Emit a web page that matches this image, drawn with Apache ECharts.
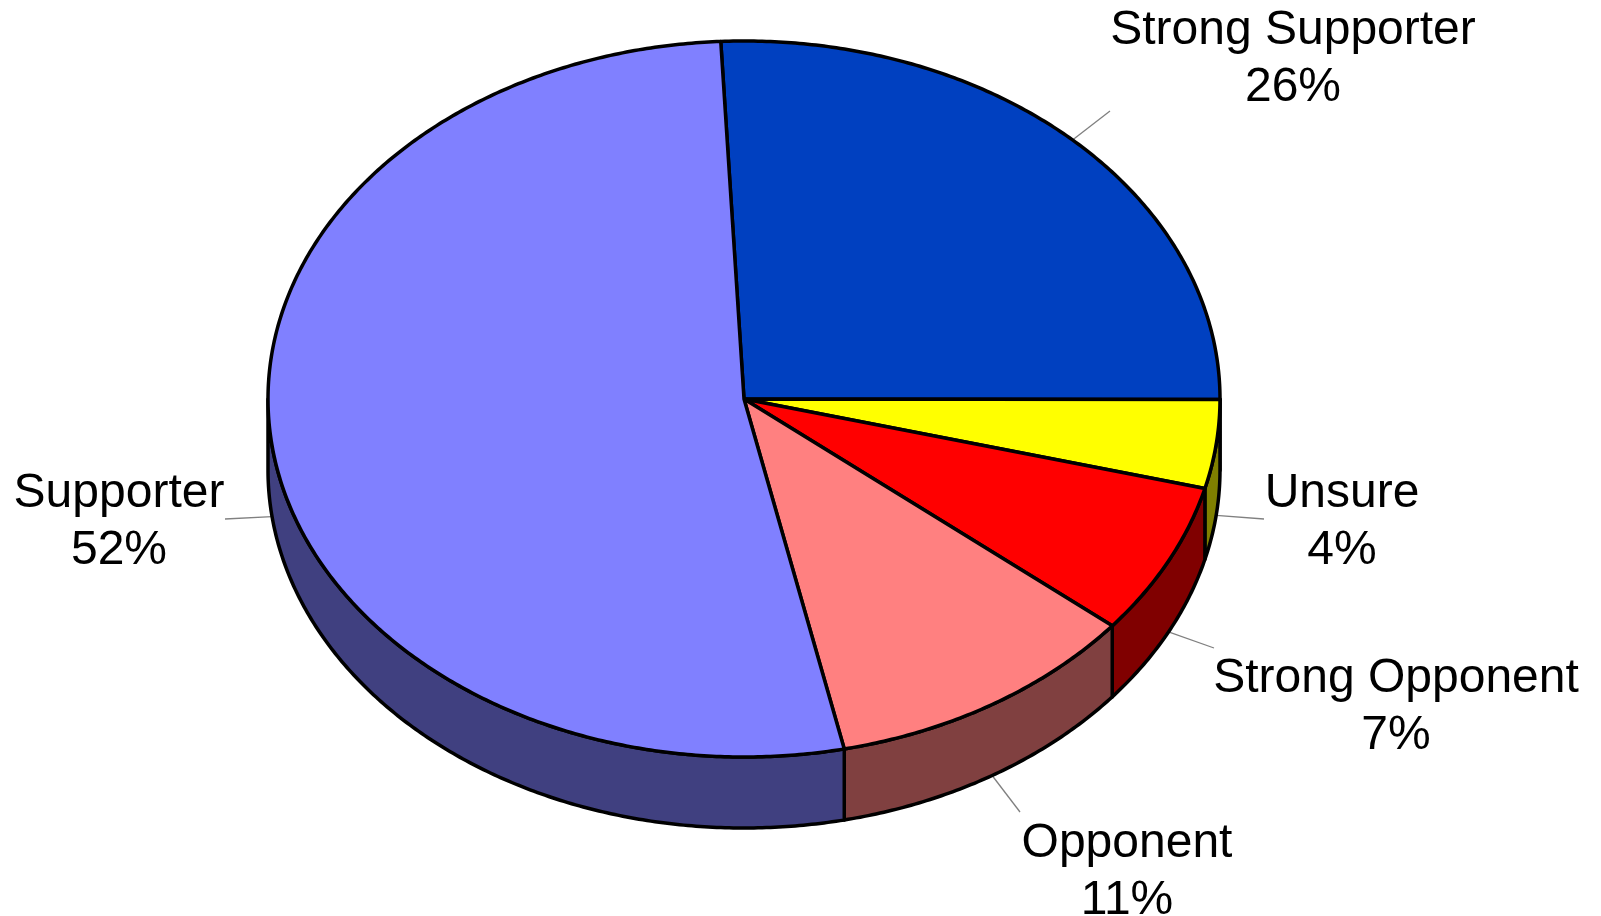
<!DOCTYPE html>
<html>
<head>
<meta charset="utf-8">
<style>html,body{margin:0;padding:0;background:#fff}#c{width:1601px;height:916px}</style>
<script src="https://cdn.jsdelivr.net/npm/echarts@6/dist/echarts.min.js"></script>
</head>
<body>
<div id="c"></div>
<script>
// Data
const categories = ['Strong Supporter', 'Unsure', 'Strong Opponent', 'Opponent', 'Supporter'];
const shares = [25.8, 4.0, 6.9, 10.7, 52.6];
const percentLabels = ['26%', '4%', '7%', '11%', '52%'];
const topColors = ['#0040C0', '#FFFF00', '#FF0000', '#FF8080', '#8080FF'];
const sideColors = ['#002060', '#808000', '#800000', '#804040', '#404080'];

// Layout
const CX = 744, CY = 399, RX = 476, RY = 358, DEPTH = 71, START_DEG = -2.8;
const labelCenters = [[1293, 59], [1342, 522], [1396, 707], [1127, 872], [119, 522]];
const leaderEnds = [[1110, 111], [1264, 519], [1214, 648], [1020, 812], [225, 519]];

const total = shares.reduce((a, b) => a + b, 0);
const rad = d => d * Math.PI / 180;
const pt = (deg, dy) => [CX + RX * Math.sin(rad(deg)), CY - RY * Math.cos(rad(deg)) + (dy || 0)];
function arc(a, b, dy) {
  const n = Math.max(2, Math.ceil(Math.abs(b - a) * 2));
  const out = [];
  for (let i = 0; i <= n; i++) out.push(pt(a + (b - a) * i / n, dy));
  return out;
}

function renderItem(params, api) {
  const i = params.dataIndex;
  let before = 0;
  for (let k = 0; k < i; k++) before += shares[k];
  const a0 = START_DEG + before / total * 360;
  const a1 = a0 + api.value(0) / total * 360;
  const mid = (a0 + a1) / 2;
  const children = [];
  const edge = { stroke: '#000', lineWidth: 3.5, lineJoin: 'round' };

  // Visible wall: the part of the rim on the front half (90° to 270°)
  const s0 = Math.max(a0, 90), s1 = Math.min(a1, 270);
  if (s1 > s0) {
    const top = arc(s0, s1, 0), bottom = arc(s0, s1, DEPTH).reverse();
    children.push({
      type: 'polygon', z2: 1,
      shape: { points: top.concat(bottom) },
      style: Object.assign({ fill: sideColors[i] }, edge)
    });
  }
  // Top face
  children.push({
    type: 'polygon', z2: 2,
    shape: { points: [[CX, CY]].concat(arc(a0, a1, 0)) },
    style: Object.assign({ fill: topColors[i] }, edge)
  });
  // Leader line from rim at mid-angle
  const cosMid = Math.cos(rad(mid));
  const start = pt(mid, cosMid < 0 ? DEPTH : 0);
  children.push({
    type: 'line', z2: 0,
    shape: { x1: start[0], y1: start[1], x2: leaderEnds[i][0], y2: leaderEnds[i][1] },
    style: { stroke: '#808080', lineWidth: 1.3 }
  });
  // Label
  children.push({
    type: 'text', z2: 3,
    x: labelCenters[i][0], y: labelCenters[i][1],
    style: {
      text: categories[i] + '\n' + percentLabels[i],
      fill: '#000',
      font: '48px "Liberation Sans", Arial, sans-serif',
      lineHeight: 57,
      align: 'center',
      verticalAlign: 'middle'
    }
  });
  return { type: 'group', children };
}

const chart = echarts.init(document.getElementById('c'), null, { renderer: 'canvas' });
chart.setOption({
  animation: false,
  backgroundColor: '#fff',
  series: [{
    type: 'custom',
    coordinateSystem: 'none',
    silent: true,
    renderItem,
    data: shares.map(v => [v])
  }]
});
</script>
</body>
</html>
